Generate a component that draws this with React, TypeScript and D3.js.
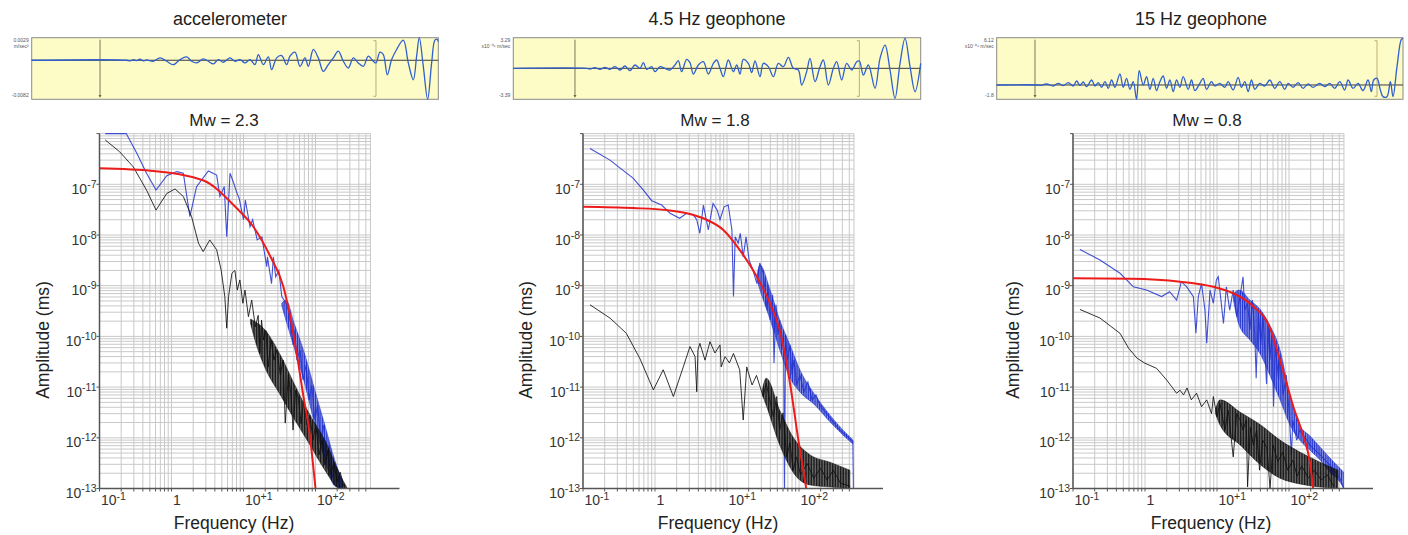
import React from "react";
import * as d3 from "d3";

type Pt = [number, number];
type BandPt = [number, number, number];

// ---------------- text ----------------
const sensorTitles = ["accelerometer", "4.5 Hz geophone", "15 Hz geophone"];
const magnitudeTitles = ["Mw = 2.3", "Mw = 1.8", "Mw = 0.8"];
const yAxisTitle = "Amplitude (ms)";
const xAxisTitle = "Frequency (Hz)";
const yDecadeExps = [-7, -8, -9, -10, -11, -12, -13];
const xDecadeLabels: [number, string, string][] = [
  [0.1, "10", "-1"],
  [1, "1", ""],
  [10, "10", "+1"],
  [100, "10", "+2"],
];

// ---------------- waveforms (sample index, counts) ----------------
const accWave: Pt[] = [
  [0, 0], [285, 0], [295, -2], [305, 2], [315, -1], [325, 3], [335, -2], [345, 1], [365, -3], [385, 7],
  [405, -3], [425, -13], [445, 2], [465, 10], [480, -3], [495, -8], [515, 4], [530, -3], [545, -11],
  [560, 2], [575, -6], [595, 7], [610, -3], [625, 2], [640, -8], [655, 2], [670, -13], [680, 17],
  [695, -13], [710, 10], [720, -28], [735, 7], [750, 14], [765, -13], [775, 12], [790, 24], [805, -18],
  [820, 7], [830, -18], [845, 32], [860, 7], [875, -33], [890, -13], [905, 7], [920, 27], [935, -3],
  [950, -23], [965, 7], [980, -8], [995, -18], [1010, 12], [1025, -3], [1033, -8], [1045, 24], [1055, 17],
  [1067, -43], [1080, 2], [1095, 32], [1115, 60], [1130, -8], [1145, -58], [1155, 12], [1163, 67],
  [1175, -18], [1188, -116], [1200, -8], [1210, 60], [1217, 62], [1220, 55],
];
const geo45Wave: Pt[] = [
  [0, 0], [220, 0], [230, -2], [245, 2], [260, -3], [275, 3], [290, -3], [305, 5], [320, -5], [335, 7],
  [350, -7], [365, 10], [380, 0], [390, 17], [400, -3], [415, 5], [425, -10], [440, 5], [455, 0],
  [470, -5], [485, 10], [495, 23], [505, -10], [520, 27], [530, 17], [540, -17], [555, 10], [570, 20],
  [585, -17], [600, 15], [610, 25], [620, 0], [630, -25], [645, 25], [660, -10], [670, 10], [680, -17],
  [690, 27], [705, 15], [715, -13], [725, 22], [740, -25], [750, 15], [765, 5], [780, -25], [795, 15],
  [810, 5], [825, 33], [840, 0], [855, -5], [865, -50], [880, -10], [890, 30], [905, -40], [920, 5],
  [930, 25], [945, -50], [960, 0], [970, 20], [985, -35], [1000, 15], [1015, -5], [1030, 20], [1038, 22],
  [1050, -20], [1065, 10], [1085, -60], [1100, 30], [1115, 70], [1130, -5], [1145, -90], [1160, 15],
  [1175, 90], [1190, 5], [1205, -70], [1222, 15],
];
const geo15Wave: Pt[] = [
  [0, 0], [125, 0], [130, -1], [150, 3], [170, -3], [185, 5], [200, -2], [215, 7], [230, -3], [240, 12],
  [250, -1], [260, 9], [270, -5], [285, 15], [295, -3], [305, 7], [315, -7], [325, 10], [335, -10],
  [345, 15], [355, -7], [370, 33], [380, -7], [390, 20], [400, -13], [410, 10], [420, -43], [428, 43],
  [440, 0], [450, 25], [460, -13], [470, 20], [480, -17], [490, 10], [500, 27], [510, -10], [520, 15],
  [530, -20], [540, 15], [550, -7], [560, 25], [575, -13], [585, 15], [595, -17], [610, 5], [620, 20],
  [630, -13], [645, 10], [655, -3], [670, 5], [685, -7], [695, 10], [710, -15], [725, 23], [735, -7],
  [745, 10], [755, -20], [765, 15], [775, -13], [790, 5], [805, -3], [820, 15], [835, -10], [850, 10],
  [865, -13], [875, 5], [890, -7], [905, 7], [920, -10], [935, 3], [950, -7], [970, 5], [985, -5],
  [1000, 5], [1015, -10], [1030, 10], [1045, -15], [1055, 15], [1070, -10], [1085, 5], [1100, -17],
  [1115, 15], [1125, -20], [1132, 15], [1142, 20], [1152, -15], [1160, -35], [1172, -35], [1182, 10],
  [1190, -35], [1202, 55], [1215, 137], [1220, 140],
];
const accWaveRange: Pt = [-116, 67];
const geo45WaveRange: Pt = [-93, 92];
const geo15WaveRange: Pt = [-43, 142];
const accWaveLen = 1220;
const geo45WaveLen = 1222;
const geo15WaveLen = 1220;
const accPicks = [205, 1033];
const geo45Picks = [185, 1038];
const geo15Picks = [115, 1142];
const accWaveLabels = ["0.0029", "m/sec\u00b2", "-0.0082"];
const geo45WaveLabels = ["3.29", "x10\u207b\u2070\u2076 m/sec", "-3.39"];
const geo15WaveLabels = ["6.12", "x10\u207b\u2070\u2076 m/sec", "-1.8"];

// ---------------- spectra [Hz, amplitude] ----------------
const accBlue: Pt[] = [
  [0.12, 1e-6], [0.235, 1e-6], [0.33, 4.1e-7], [0.45, 1.65e-7], [0.61, 7.7e-8], [0.86, 1.48e-7],
  [1.18, 1.78e-7], [1.46, 1.65e-7], [1.8, 2.3e-8], [2.23, 9e-8], [3.25, 1.83e-7], [4.24, 1.52e-7],
  [4.7, 5.75e-8], [5.4, 9e-8], [5.85, 9.2e-9], [6.5, 1.65e-7], [7.2, 1.12e-7], [8.0, 7.1e-8],
  [8.7, 5.3e-8], [10, 2e-8], [10.6, 4.9e-8], [12.3, 1.46e-8], [13.4, 2e-8], [15.5, 8e-9], [18, 9.2e-9],
  [21, 2.37e-9], [21.5, 3.7e-9], [24.5, 1.1e-9], [26, 3.7e-9], [28, 1.5e-9], [31, 2e-9], [34, 6.1e-10],
  [39, 4.5e-10], [42, 3.3e-10], [45, 1.8e-10], [49, 6.8e-11], [51.6, 1.34e-10], [55, 3.4e-11],
  [61, 5.4e-11], [67, 1.38e-11], [74, 2.7e-11], [82, 5.6e-12], [89, 1.1e-11], [98, 2.24e-12],
  [107, 4.4e-12], [118, 9e-13], [129, 1.79e-12], [142, 3.65e-13], [156, 7.2e-13], [171, 1.6e-13],
  [187, 2.9e-13], [220, 1e-13],
];
const accBlack: Pt[] = [
  [0.12, 7.5e-7], [0.19, 4.4e-7], [0.295, 2.2e-7], [0.45, 7.7e-8], [0.61, 3.1e-8], [0.86, 6.6e-8],
  [1.12, 8.1e-8], [1.46, 5.75e-8], [1.9, 2.3e-8], [2.37, 6.9e-9], [2.75, 4.7e-9], [3.4, 8e-9],
  [4.24, 5.1e-9], [4.9, 2e-9], [5.5, 6.1e-10], [5.85, 1.45e-10], [6.2, 6.1e-10], [6.9, 1.76e-9],
  [7.6, 2e-9], [8.2, 8.2e-10], [8.9, 1.3e-9], [9.8, 4.5e-10], [10.5, 8.2e-10], [11.7, 2.45e-10],
  [13, 5.2e-10], [14.6, 1.55e-10], [16, 2.6e-10], [16.9, 4.6e-11], [17.8, 2.1e-10], [19, 8.5e-11],
  [20.5, 1.3e-10], [22, 2.5e-11], [24.2, 8.5e-11], [26.5, 3.4e-11], [29, 5.4e-11], [32.5, 1.73e-11],
  [35.5, 3.4e-11], [38, 1.95e-12], [42, 1.73e-11], [45.7, 7e-12], [48.8, 1.42e-12], [53, 8.7e-12],
  [58, 6e-12], [63, 1.9e-12], [69, 5.6e-12], [76, 1.79e-12], [84, 2.8e-12], [92, 9e-13], [101, 1.79e-12],
  [112, 4.6e-13], [123, 9e-13], [135, 2.9e-13], [148, 5.7e-13], [164, 1.85e-13], [180, 3.3e-13],
  [200, 1.34e-13], [220, 2.1e-13], [253, 1e-13],
];
const accRed: Pt[] = [
  [0.1, 2.07e-7], [0.555, 1.83e-7], [2.73, 1.2e-7], [8.0, 3.4e-8], [13.4, 1.52e-8], [23.3, 3.9e-9],
  [35.8, 9.5e-10], [46.3, 1.84e-10], [57.5, 3e-11], [68, 6.5e-12], [81.6, 1.42e-12], [100, 1e-13],
];
const accBlueBand: BandPt[] = [
  [34, 4.5e-10, 4e-10], [38.7, 5.2e-10, 2.1e-10], [51.6, 1.68e-10, 5.4e-11], [71.5, 4.3e-11, 1.1e-11],
  [98, 8.7e-12, 1.79e-12], [135, 1.79e-12, 3.65e-13], [185, 3.65e-13, 1.12e-13], [240, 1.34e-13, 1e-13],
];
const accBlackBand: BandPt[] = [
  [12.5, 2.2e-10, 1.8e-10], [15, 1.9e-10, 7e-11], [19.9, 1.34e-10, 2.4e-11], [32.5, 4.3e-11, 7e-12],
  [51.6, 1.1e-11, 2.24e-12], [84, 2.8e-12, 7.2e-13], [135, 9e-13, 2.3e-13], [220, 1.85e-13, 1e-13],
  [276, 1.02e-13, 1e-13],
];

const geo45Blue: Pt[] = [
  [0.125, 5.1e-7], [0.237, 3e-7], [0.5, 1.31e-7], [0.69, 7.7e-8], [0.9, 4.75e-8], [1.24, 3.9e-8],
  [1.62, 2.68e-8], [2.2, 2.14e-8], [2.75, 2.68e-8], [3.4, 2.5e-8], [3.8, 2e-8], [4.2, 1.08e-8],
  [4.7, 3.9e-8], [5.5, 1.26e-8], [6.4, 4.2e-8], [7.3, 3.1e-8], [8.0, 2e-8], [9.1, 3.6e-8], [10.4, 3.9e-8],
  [11.7, 1.26e-8], [12.3, 6.1e-10], [13, 9.2e-9], [14.3, 6.9e-9], [15.3, 1.08e-8], [16.8, 3.7e-9],
  [18.4, 9.2e-9], [20.3, 3.2e-9], [23, 2e-9], [26, 1.1e-9], [28.5, 2.8e-9], [32, 1.76e-9], [36, 3.3e-10],
  [37, 1.03e-9], [39.8, 2.1e-10], [43, 6.6e-10], [45, 3e-11], [48, 4.2e-10], [51, 1.07e-10], [54, 2.1e-10],
  [57.5, 5.4e-11], [61, 1.34e-10], [63, 1e-13], [65, 1.07e-10], [69, 3.4e-11], [75, 6.8e-11],
  [80, 1.73e-11], [85, 3.4e-11], [93, 1.1e-11], [103, 1.73e-11], [117, 8e-12], [133, 1.26e-11],
  [152, 5.6e-12], [172, 7e-12], [195, 4.4e-12], [270, 2.46e-12], [370, 1.42e-12], [560, 8.5e-13],
  [570, 1e-13],
];
const geo45Black: Pt[] = [
  [0.125, 4.2e-10], [0.237, 2.3e-10], [0.4, 1.15e-10], [0.62, 3.6e-11], [0.95, 8.8e-12], [1.3, 2.2e-11],
  [1.8, 6.5e-12], [2.47, 2.5e-11], [3.06, 6.3e-11], [3.6, 4e-11], [3.8, 8.1e-12], [3.95, 5.4e-11],
  [4.2, 7.3e-11], [4.95, 3.4e-11], [5.8, 7.85e-11], [6.8, 4.7e-11], [8.0, 6.8e-11], [8.3, 2.5e-11],
  [9.4, 4e-11], [10.8, 3e-11], [12.3, 4.6e-11], [15, 2.2e-11], [16.8, 2.24e-12], [18.8, 2.5e-11],
  [22.3, 1.1e-11], [25.7, 1.7e-11], [31.8, 6.5e-12], [35, 1.2e-11], [44, 2.6e-12], [49, 6.5e-12],
  [54, 1.42e-12], [60, 3.1e-12], [67.5, 4.2e-13], [75, 7.9e-13], [83, 2.3e-13], [92, 4.2e-13],
  [105, 1.85e-13], [130, 3.1e-13], [160, 1.6e-13], [200, 2.5e-13], [245, 1.47e-13], [300, 2.3e-13],
  [375, 1.28e-13], [515, 1.1e-13],
];
const geo45Red: Pt[] = [
  [0.1, 3.6e-8], [0.5, 3.4e-8], [1.45, 3.1e-8], [2.75, 2.68e-8], [5.2, 2e-8], [8.9, 1.26e-8], [15, 5.1e-9],
  [26, 1.5e-9], [39.5, 4.5e-10], [54, 1.34e-10], [75, 1.19e-11], [98, 9e-13], [126, 1e-13],
];
const geo45BlueBand: BandPt[] = [
  [26, 1.6e-9, 1.3e-9], [28.7, 2.56e-9, 8.2e-10], [39.8, 8.2e-10, 2.1e-10], [54, 2.1e-10, 5.4e-11],
  [75, 6.8e-11, 1.51e-11], [103, 2.2e-11, 8e-12], [167, 7e-12, 4.4e-12], [270, 2.8e-12, 2.05e-12],
  [435, 1.3e-12, 1.04e-12], [560, 9e-13, 7.55e-13],
];
const geo45BlackBand: BandPt[] = [
  [31, 9e-12, 7e-12], [35, 1.5e-11, 4.4e-12], [54, 3.5e-12, 7.2e-13], [88, 9e-13, 1.85e-13],
  [143, 4.6e-13, 1.17e-13], [270, 3.3e-13, 1.07e-13], [510, 2.3e-13, 1e-13],
];

const geo15Blue: Pt[] = [
  [0.125, 5.2e-9], [0.237, 3.2e-9], [0.45, 1.76e-9], [0.69, 9.5e-10], [1.05, 8.2e-10], [1.7, 6.1e-10],
  [2.2, 7.6e-10], [2.75, 5.2e-10], [3.2, 1.2e-9], [3.8, 9.5e-10], [4.7, 6.1e-10], [5.1, 1.15e-10],
  [5.5, 6.1e-10], [6.1, 1.1e-9], [6.8, 3.3e-10], [7.2, 7.3e-11], [8.0, 8.2e-10], [8.9, 4.5e-10],
  [9.8, 1.3e-9], [10.4, 1.5e-9], [11.2, 6.1e-10], [12.3, 1.8e-10], [13.5, 9.5e-10], [15, 3.3e-10],
  [16.8, 8.2e-10], [18.8, 2.45e-10], [20.9, 6.1e-10], [23, 1.5e-9], [24.3, 3.3e-10], [26.6, 4.5e-10],
  [28.7, 1.34e-10], [31, 5.2e-10], [33.5, 1.07e-10], [35, 1.5e-11], [37.5, 3.3e-10], [40.5, 6.8e-11],
  [43.5, 2.6e-10], [48.8, 1.15e-11], [52, 1.68e-10], [54, 3.4e-11], [58, 1.07e-10], [61, 4.1e-12],
  [64.6, 6.8e-11], [71.7, 1.38e-11], [75, 4.3e-11], [83, 7e-12], [91.6, 1.73e-11], [101, 2.8e-12],
  [108, 4.6e-13], [113, 2.24e-12], [128, 9e-13], [141, 1.42e-12], [196, 7.2e-13], [270, 4.6e-13],
  [370, 2.9e-13], [510, 1.6e-13], [575, 1e-13],
];
const geo15Black: Pt[] = [
  [0.125, 3.4e-10], [0.237, 2.3e-10], [0.45, 1.15e-10], [0.59, 5.9e-11], [0.77, 3.75e-11], [1.0, 2.95e-11],
  [1.45, 2.34e-11], [2.0, 1.38e-11], [2.35, 1.02e-11], [2.75, 7.55e-12], [3.06, 8.7e-12], [3.43, 7e-12],
  [3.84, 9.6e-12], [4.4, 5.6e-12], [5.2, 7.6e-12], [6.1, 4.1e-12], [7.2, 5.6e-12], [8.4, 3e-12],
  [8.9, 6.5e-12], [10, 2.6e-12], [11, 4.8e-12], [12.9, 1.42e-12], [14.3, 3.5e-12], [16.8, 4.2e-13],
  [18.8, 3e-12], [21, 2.24e-12], [23, 1.42e-12], [25.5, 2.24e-12], [26.6, 1.08e-13], [29, 1.6e-12],
  [32, 7.2e-13], [35.5, 1.42e-12], [39, 2.3e-13], [43, 9e-13], [49.5, 6.3e-13], [54.5, 1e-13],
  [60, 7.2e-13], [70, 3.4e-13], [82, 5.2e-13], [96, 2.3e-13], [113, 3.6e-13], [130, 1.75e-13],
  [150, 2.8e-13], [185, 1.6e-13], [225, 2.3e-13], [280, 1.47e-13], [340, 1.85e-13], [420, 1.1e-13],
];
const geo15Red: Pt[] = [
  [0.1, 1.4e-9], [0.62, 1.37e-9], [3.06, 1.2e-9], [8.9, 9.5e-10], [16.8, 7.1e-10], [32, 3.9e-10],
  [54, 1.5e-10], [75, 3.4e-11], [115, 4.1e-12], [158, 1.09e-12], [196, 3.2e-13], [216, 1e-13],
];
const geo15BlueBand: BandPt[] = [
  [17, 7e-10, 5e-10], [20.2, 8.2e-10, 1.68e-10], [28.7, 5.2e-10, 8.5e-11], [40.5, 3.3e-10, 4.3e-11],
  [54, 1.68e-10, 1.73e-11], [75, 5.4e-11, 5.6e-12], [103, 7e-12, 1.79e-12], [141, 1.79e-12, 9e-13],
  [196, 1.09e-12, 5.7e-13], [270, 6.6e-13, 3.65e-13], [370, 4e-13, 2.1e-13], [510, 2.5e-13, 1.34e-13],
  [575, 2.1e-13, 1e-13],
];
const geo15BlackBand: BandPt[] = [
  [9.5, 3.5e-12, 3e-12], [11, 5.6e-12, 1.79e-12], [21, 3.2e-12, 7.2e-13], [40.5, 1.79e-12, 2.9e-13],
  [75, 9e-13, 1.6e-13], [141, 5.25e-13, 1.23e-13], [270, 3.3e-13, 1.07e-13], [479, 2.3e-13, 1e-13],
];

// ---------------- layout ----------------
const FONT = "'Liberation Sans', Arial, Helvetica, sans-serif";
const W = 1408;
const H = 535;
const PLOT_TOP = 133.6;
const PLOT_BOTTOM = 488.5;
const DEC_X = 72;
const AXIS_EXT = 300;
const freqDomain: Pt = [0.1, 580];
const ampDomain: Pt = [1e-13, 1e-6];
const WAVE_TOP = 37.7;
const WAVE_BOTTOM = 99.3;

const BLUE = "#2233cc";
const BLACK = "#111111";
const RED = "#ee1b1b";

interface SpecProps {
  id: string;
  left: number;
  titleX: number;
  yTitleX: number;
  xTitleX: number;
  title: string;
  blue: Pt[];
  black: Pt[];
  red: Pt[];
  blueBand: BandPt[];
  blackBand: BandPt[];
}

const isDecade = (v: number) => Math.abs(Math.log10(v) - Math.round(Math.log10(v))) < 1e-6;

function SpectrumPanel(p: SpecProps) {
  const right = p.left + DEC_X * Math.log10(freqDomain[1] / freqDomain[0]);
  const x = d3.scaleLog().domain(freqDomain).range([p.left, right]);
  const y = d3.scaleLog().domain(ampDomain).range([PLOT_BOTTOM, PLOT_TOP]).clamp(true);
  const xt = x.ticks();
  const yt = y.ticks();
  const line = d3.line<Pt>().x((d) => x(d[0])).y((d) => y(d[1]));
  const smooth = d3.line<Pt>().x((d) => x(d[0])).y((d) => y(d[1])).curve(d3.curveMonotoneX);
  const band = d3
    .area<BandPt>()
    .x((d) => x(d[0]))
    .y0((d) => y(d[2]))
    .y1((d) => y(d[1]))
    .curve(d3.curveMonotoneX);
  const clipId = `clip-${p.id}`;
  const blueHatch = `hb-${p.id}`;
  const blackHatch = `hk-${p.id}`;
  return (
    <g>
      <defs>
        <clipPath id={clipId}>
          <rect x={p.left} y={PLOT_TOP - 1} width={right - p.left} height={PLOT_BOTTOM - PLOT_TOP + 1} />
        </clipPath>
        <pattern id={blueHatch} width={1.8} height={6} patternUnits="userSpaceOnUse">
          <rect x={0} y={0} width={1.1} height={6} fill={BLUE} />
        </pattern>
        <pattern id={blackHatch} width={1.6} height={6} patternUnits="userSpaceOnUse">
          <rect x={0} y={0} width={1.1} height={6} fill={BLACK} />
        </pattern>
      </defs>
      <text x={p.titleX} y={126} textAnchor="middle" fontSize={17} fill="#222">
        {p.title}
      </text>
      {/* grid */}
      <g stroke="#c9c9c9" strokeWidth={1}>
        {xt.map((t, i) => (
          <line key={`vx${i}`} x1={x(t)} x2={x(t)} y1={PLOT_TOP} y2={PLOT_BOTTOM} />
        ))}
        <line x1={right} x2={right} y1={PLOT_TOP} y2={PLOT_BOTTOM} />
        {yt.map((t, i) => (
          <line key={`hy${i}`} x1={p.left} x2={right} y1={y(t)} y2={y(t)} />
        ))}
      </g>
      {/* spectra */}
      <g clipPath={`url(#${clipId})`} fill="none">
        <path d={band(p.blueBand) || ""} fill={BLUE} fillOpacity={0.35} stroke="none" />
        <path d={band(p.blueBand) || ""} fill={`url(#${blueHatch})`} stroke={BLUE} strokeOpacity={0.55} strokeWidth={0.8} />
        <path d={line(p.blue) || ""} stroke={BLUE} strokeWidth={1.1} strokeOpacity={0.85} />
        <path d={band(p.blackBand) || ""} fill={BLACK} fillOpacity={0.35} stroke="none" />
        <path d={band(p.blackBand) || ""} fill={`url(#${blackHatch})`} stroke={BLACK} strokeOpacity={0.55} strokeWidth={0.8} />
        <path d={line(p.black) || ""} stroke={BLACK} strokeWidth={1} strokeOpacity={0.85} />
        <path d={smooth(p.red) || ""} stroke={RED} strokeWidth={2} />
      </g>
      {/* axes */}
      <line x1={p.left} x2={p.left + AXIS_EXT} y1={PLOT_BOTTOM} y2={PLOT_BOTTOM} stroke="#555" strokeWidth={1.5} />
      <line x1={p.left} x2={p.left} y1={PLOT_TOP} y2={PLOT_BOTTOM} stroke="#555" strokeWidth={1.5} />
      <g stroke="#555" strokeWidth={1}>
        {xt.map((t, i) => (
          <line key={`tx${i}`} x1={x(t)} x2={x(t)} y1={PLOT_BOTTOM} y2={PLOT_BOTTOM + 3} />
        ))}
        {yt.filter(isDecade).map((t, i) => (
          <line key={`ty${i}`} x1={p.left - 3} x2={p.left} y1={y(t)} y2={y(t)} />
        ))}
      </g>
      {/* tick labels */}
      <g fontSize={14} fill="#333">
        {yDecadeExps.map((e) => (
          <text key={`yl${e}`} x={p.left - 3} y={y(Math.pow(10, e)) + 9.5} textAnchor="end">
            10
            <tspan dy={-6} fontSize={10.5}>
              {`-${-e}`}
            </tspan>
          </text>
        ))}
        {xDecadeLabels.map(([v, base, sup]) => (
          <text key={`xl${v}`} x={x(v) + 1.5} y={PLOT_BOTTOM + 16.5} textAnchor="start">
            {base}
            {sup ? (
              <tspan dy={-5} fontSize={10.5}>
                {sup}
              </tspan>
            ) : null}
          </text>
        ))}
      </g>
      <text x={p.xTitleX} y={529} textAnchor="middle" fontSize={17.5} fill="#222">
        {xAxisTitle}
      </text>
      <text
        transform={`translate(${p.yTitleX},340) rotate(-90)`}
        textAnchor="middle"
        fontSize={17.5}
        fill="#222"
      >
        {yAxisTitle}
      </text>
    </g>
  );
}

interface WaveProps {
  x0: number;
  x1: number;
  titleX: number;
  title: string;
  data: Pt[];
  len: number;
  range: Pt;
  picks: number[];
  labels: string[];
}

function WavePanel(p: WaveProps) {
  const x = d3.scaleLinear().domain([0, p.len]).range([p.x0, p.x1]);
  const y = d3.scaleLinear().domain(p.range).range([WAVE_BOTTOM, WAVE_TOP]);
  const line = d3
    .line<Pt>()
    .x((d) => x(d[0]))
    .y((d) => y(d[1]))
    .curve(d3.curveCatmullRom.alpha(0.5));
  const zeroY = y(0);
  const pa = x(p.picks[0]);
  const pb = x(p.picks[1]);
  return (
    <g>
      <text x={p.titleX} y={25} textAnchor="middle" fontSize={18} fill="#222">
        {p.title}
      </text>
      <rect
        x={p.x0}
        y={WAVE_TOP}
        width={p.x1 - p.x0}
        height={WAVE_BOTTOM - WAVE_TOP}
        fill="#fdfcc6"
        stroke="#8a8a8a"
        strokeWidth={1}
      />
      <line x1={p.x0} x2={p.x1} y1={zeroY} y2={zeroY} stroke="#3a3a3a" strokeWidth={1} />
      <line x1={pa} x2={pa} y1={WAVE_TOP + 2} y2={WAVE_BOTTOM - 2} stroke="#6d6a50" strokeWidth={0.9} />
      <path d={`M${pa},${WAVE_BOTTOM - 2}l1.6,-2.2l-3.2,0z`} fill="#6d6a50" />
      <g stroke="#b2a66a" strokeWidth={0.9} fill="none">
        <path d={`M${pb - 2.5},${WAVE_TOP + 3}H${pb}V${WAVE_BOTTOM - 3}H${pb - 2.5}`} />
      </g>
      <path d={line(p.data) || ""} fill="none" stroke="#2f5fd0" strokeWidth={1.3} />
      <g fontSize={5} fill="#555" textAnchor="end">
        <text x={p.x0 - 3} y={WAVE_TOP + 4.5}>
          {p.labels[0]}
        </text>
        <text x={p.x0 - 3} y={WAVE_TOP + 10.5}>
          {p.labels[1]}
        </text>
        <text x={p.x0 - 3} y={WAVE_BOTTOM - 2}>
          {p.labels[2]}
        </text>
      </g>
    </g>
  );
}

export default function App() {
  return (
    <svg
      width={W}
      height={H}
      viewBox={`0 0 ${W} ${H}`}
      style={{ position: "absolute", left: 0, top: 0, background: "#fff" }}
      fontFamily={FONT}
    >
      <rect x={0} y={0} width={W} height={H} fill="#fff" />
      <WavePanel x0={31.7} x1={438.3} titleX={230} title={sensorTitles[0]} data={accWave} len={accWaveLen}
        range={accWaveRange} picks={accPicks} labels={accWaveLabels} />
      <WavePanel x0={513.3} x1={920.7} titleX={717} title={sensorTitles[1]} data={geo45Wave} len={geo45WaveLen}
        range={geo45WaveRange} picks={geo45Picks} labels={geo45WaveLabels} />
      <WavePanel x0={996.7} x1={1403} titleX={1201} title={sensorTitles[2]} data={geo15Wave} len={geo15WaveLen}
        range={geo15WaveRange} picks={geo15Picks} labels={geo15WaveLabels} />

      <SpectrumPanel id="p1" left={99.5} titleX={224} yTitleX={49} xTitleX={234} title={magnitudeTitles[0]}
        blue={accBlue} black={accBlack} red={accRed} blueBand={accBlueBand} blackBand={accBlackBand} />
      <SpectrumPanel id="p2" left={583} titleX={715} yTitleX={532} xTitleX={718} title={magnitudeTitles[1]}
        blue={geo45Blue} black={geo45Black} red={geo45Red} blueBand={geo45BlueBand} blackBand={geo45BlackBand} />
      <SpectrumPanel id="p3" left={1073} titleX={1207} yTitleX={1019} xTitleX={1211} title={magnitudeTitles[2]}
        blue={geo15Blue} black={geo15Black} red={geo15Red} blueBand={geo15BlueBand} blackBand={geo15BlackBand} />
    </svg>
  );
}
